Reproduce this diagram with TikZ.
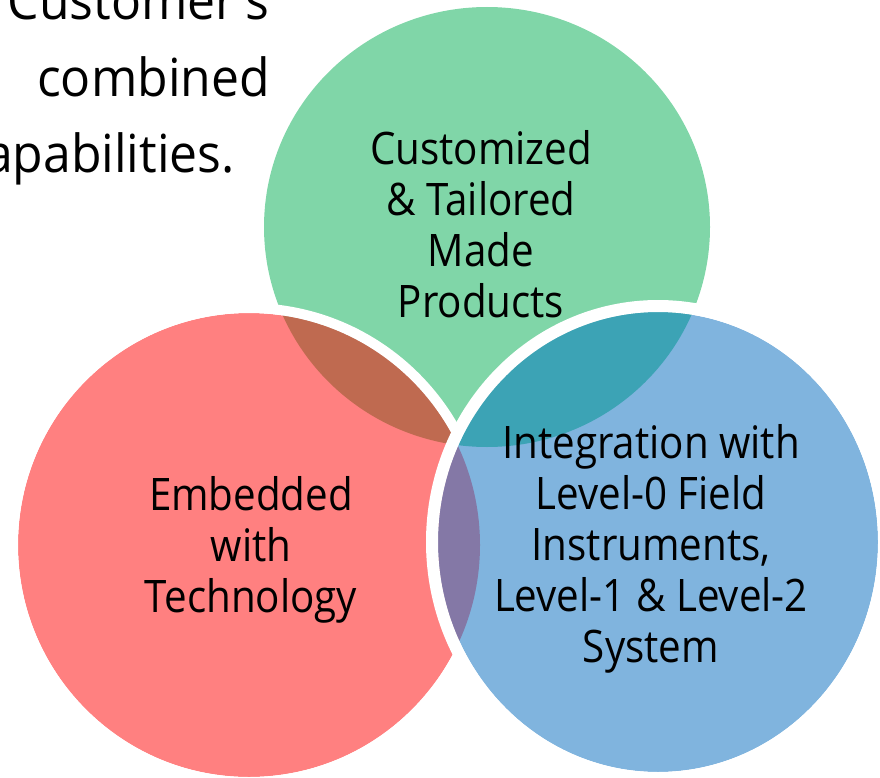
\documentclass[tikz,border=0pt]{standalone}
\usepackage{fontspec}
\setmainfont{Open Sans}[FakeStretch=0.9]
\newfontfamily\bigfont{Open Sans}[FakeStretch=0.95]
\definecolor{vgreen}{RGB}{128,214,168}
\definecolor{vred}{RGB}{255,128,128}
\definecolor{vblue}{RGB}{128,180,222}
\definecolor{vbrown}{RGB}{191,106,80}
\definecolor{vteal}{RGB}{60,163,181}
\definecolor{vpurple}{RGB}{132,120,166}
\begin{document}
\begin{tikzpicture}[x=1pt,y=-1pt,
  circtext/.style={align=center,inner sep=0pt,font=\fontsize{44.8}{51}\selectfont},
  toptext/.style={inner sep=0pt,font=\bigfont\fontsize{52.5}{77}\selectfont},
  rim/.style={draw=white}]
\useasboundingbox (0,0) rectangle (880,778);
\clip (0,0) rectangle (880,778);
\def\greenshape{(487,227) ellipse [x radius=223pt, y radius=220pt]}
\def\redshape{(249,545) ellipse [x radius=231pt, y radius=232pt]}
\def\blueshape{(658,542) ellipse [x radius=220pt, y radius=230pt]}
% green
\fill[vgreen] \greenshape;
% red
\fill[vred] \redshape;
\begin{scope}
  \clip \redshape;
  \fill[vbrown] \greenshape;
\end{scope}
\draw[rim,line width=10pt] (249,545) ellipse [x radius=236pt, y radius=237pt];
% blue
\fill[vblue] \blueshape;
\begin{scope}
  \clip \blueshape;
  \fill[vteal] \greenshape;
  \fill[vpurple] \redshape;
\end{scope}
\draw[rim,line width=12pt] (658,542) ellipse [x radius=226pt, y radius=236pt];
% texts (base anchor = baseline of the last line)
\node[circtext,anchor=base] (gt) at (481,317) {Customized\\\& Tailored\\Made\\Products};
\node[circtext,anchor=base] (rt) at (251,612) {Embedded\\with\\Technology};
\node[circtext,anchor=base] (bt) at (651,662) {Integration with\\Level-0 Field\\Instruments,\\Level-1 \& Level-2\\System};
\node[toptext,anchor=base east] (t1) at (269,20) {Customer’s};
\node[toptext,anchor=base east] (t2) at (270,97) {combined};
\node[toptext,anchor=base east] (t3) at (235,172) {capabilities.};
\end{tikzpicture}
\end{document}
